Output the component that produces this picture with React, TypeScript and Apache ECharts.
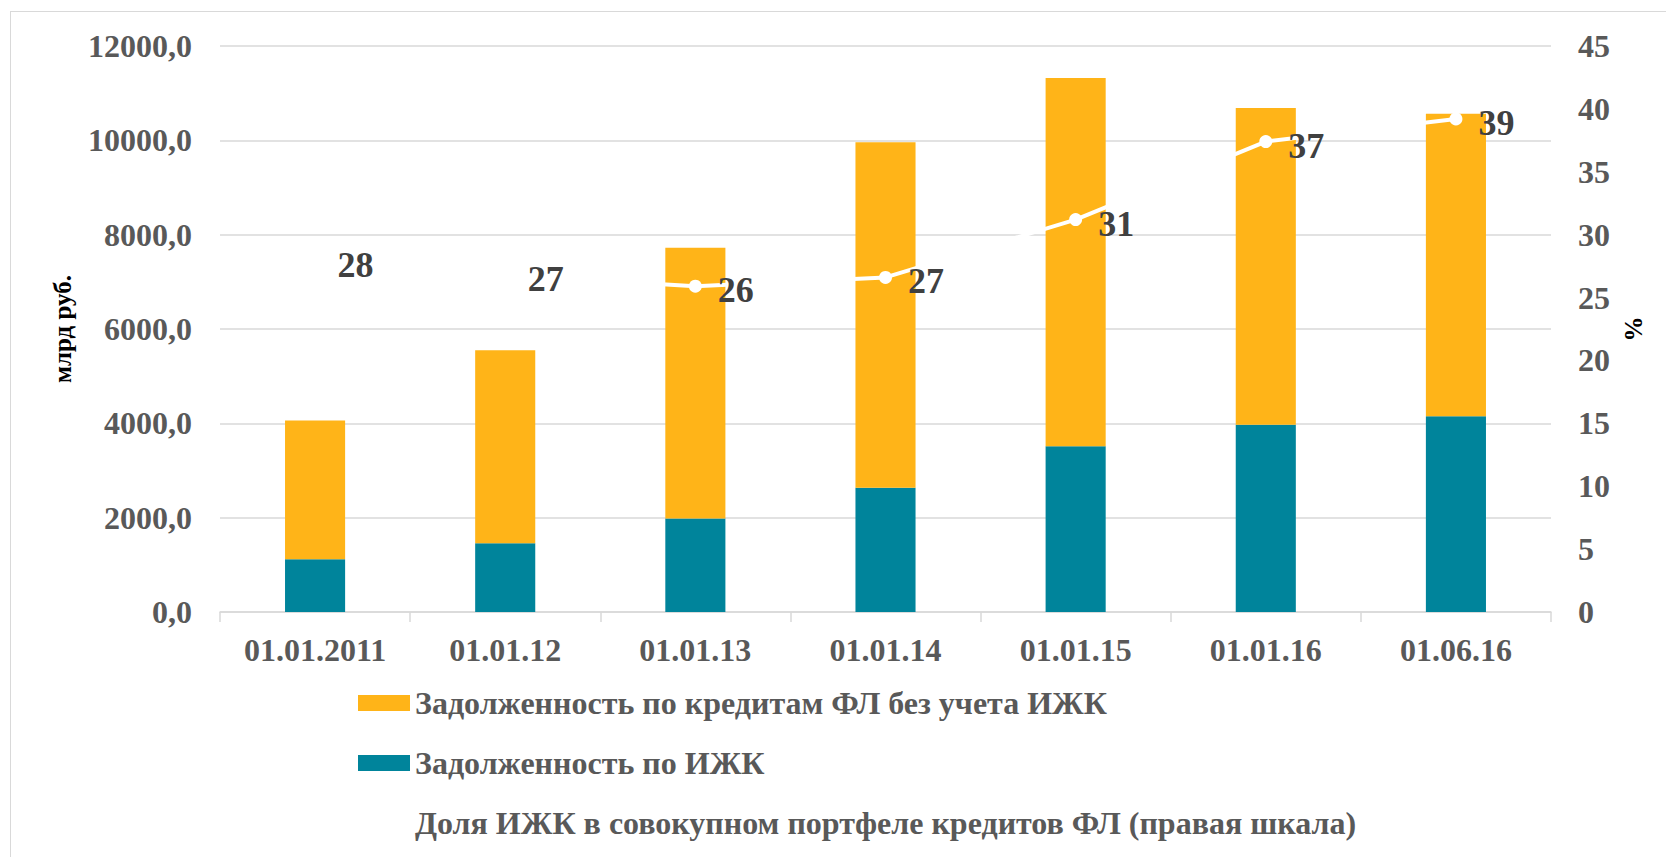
import React, { useEffect, useRef } from "react";
import * as echarts from "echarts";

const categories = ["01.01.2011", "01.01.12", "01.01.13", "01.01.14", "01.01.15", "01.01.16", "01.06.16"];
const mortgageDebt = [1120, 1460, 1980, 2635, 3515, 3970, 4150];
const otherDebt = [2940, 4090, 5740, 7325, 7805, 6715, 6415];
const mortgageShare = [27.9, 26.8, 25.9, 26.6, 31.2, 37.4, 39.2];

const nameOther = "Задолженность по кредитам ФЛ без учета ИЖК";
const nameMortgage = "Задолженность по ИЖК";
const nameShare = "Доля ИЖК в совокупном портфеле кредитов ФЛ (правая шкала)";

const FONT = "'Liberation Serif', 'Times New Roman', serif";
const GRAY = "#595959";

export default function App() {
  const ref = useRef<HTMLDivElement>(null);
  useEffect(() => {
    if (!ref.current) return;
    const chart = echarts.init(ref.current, undefined, { renderer: "svg" });
    chart.setOption({
      animation: false,
      backgroundColor: "#ffffff",
      textStyle: { fontFamily: FONT },
      grid: { left: 212, right: 115, top: 38, bottom: 245, containLabel: false },
      legend: {
        orient: "vertical",
        left: 349,
        top: 677,
        padding: 0,
        itemWidth: 52,
        itemHeight: 16,
        itemGap: 24,
        data: [
          { name: nameOther, icon: "rect" },
          { name: nameMortgage, icon: "rect" },
          { name: nameShare },
        ],
        textStyle: { fontFamily: FONT, fontWeight: "bold", fontSize: 32, color: GRAY, lineHeight: 36 },
      },
      xAxis: {
        type: "category",
        data: categories,
        axisLine: { lineStyle: { color: "#d9d9d9", width: 1.5 } },
        axisTick: { show: true, length: 10, lineStyle: { color: "#d9d9d9", width: 1.5 } },
        axisLabel: { margin: 22, fontFamily: FONT, fontWeight: "bold", fontSize: 32, color: GRAY },
      },
      yAxis: [
        {
          type: "value",
          min: 0,
          max: 12000,
          interval: 2000,
          name: "млрд руб.",
          nameLocation: "middle",
          nameGap: 145,
          nameTextStyle: { fontFamily: FONT, fontWeight: "bold", fontSize: 25, color: "#000000" },
          axisLine: { show: false },
          axisTick: { show: false },
          splitLine: { lineStyle: { color: "#d9d9d9", width: 1.5 } },
          axisLabel: {
            margin: 28,
            fontFamily: FONT,
            fontWeight: "bold",
            fontSize: 32,
            color: GRAY,
            formatter: (v: number) => v.toFixed(1).replace(".", ","),
          },
        },
        {
          type: "value",
          min: 0,
          max: 45,
          interval: 5,
          position: "right",
          name: "%",
          nameLocation: "middle",
          nameGap: 70,
          nameTextStyle: { fontFamily: FONT, fontWeight: "bold", fontSize: 25, color: "#000000" },
          axisLine: { show: false },
          axisTick: { show: false },
          splitLine: { show: false },
          axisLabel: { margin: 27, fontFamily: FONT, fontWeight: "bold", fontSize: 32, color: GRAY },
        },
      ],
      series: [
        {
          name: nameMortgage,
          type: "bar",
          stack: "debt",
          data: mortgageDebt,
          barWidth: "31.6%",
          itemStyle: { color: "#00849B" },
        },
        {
          name: nameOther,
          type: "bar",
          stack: "debt",
          data: otherDebt,
          barWidth: "31.6%",
          itemStyle: { color: "#FFB418" },
        },
        {
          name: nameShare,
          type: "line",
          yAxisIndex: 1,
          data: mortgageShare,
          z: 5,
          symbol: "circle",
          symbolSize: 13,
          itemStyle: { color: "#ffffff" },
          lineStyle: { color: "#ffffff", width: 4 },
          label: {
            show: true,
            position: "right",
            distance: 16,
            offset: [0, 4],
            fontFamily: FONT,
            fontWeight: "bold",
            fontSize: 36,
            color: "#404040",
            formatter: (p: any) => String(Math.round(p.value)),
          },
        },
      ],
    });
    return () => chart.dispose();
  }, []);
  return (
    <div style={{ position: "relative", width: 1658, height: 849, overflow: "hidden" }}>
      <div ref={ref} style={{ position: "absolute", left: 0, top: 0, width: 1658, height: 849 }} />
      <div
        style={{
          position: "absolute",
          left: 2,
          top: 3,
          width: 1700,
          height: 900,
          border: "1px solid #d9d9d9",
          pointerEvents: "none",
        }}
      />
    </div>
  );
}
